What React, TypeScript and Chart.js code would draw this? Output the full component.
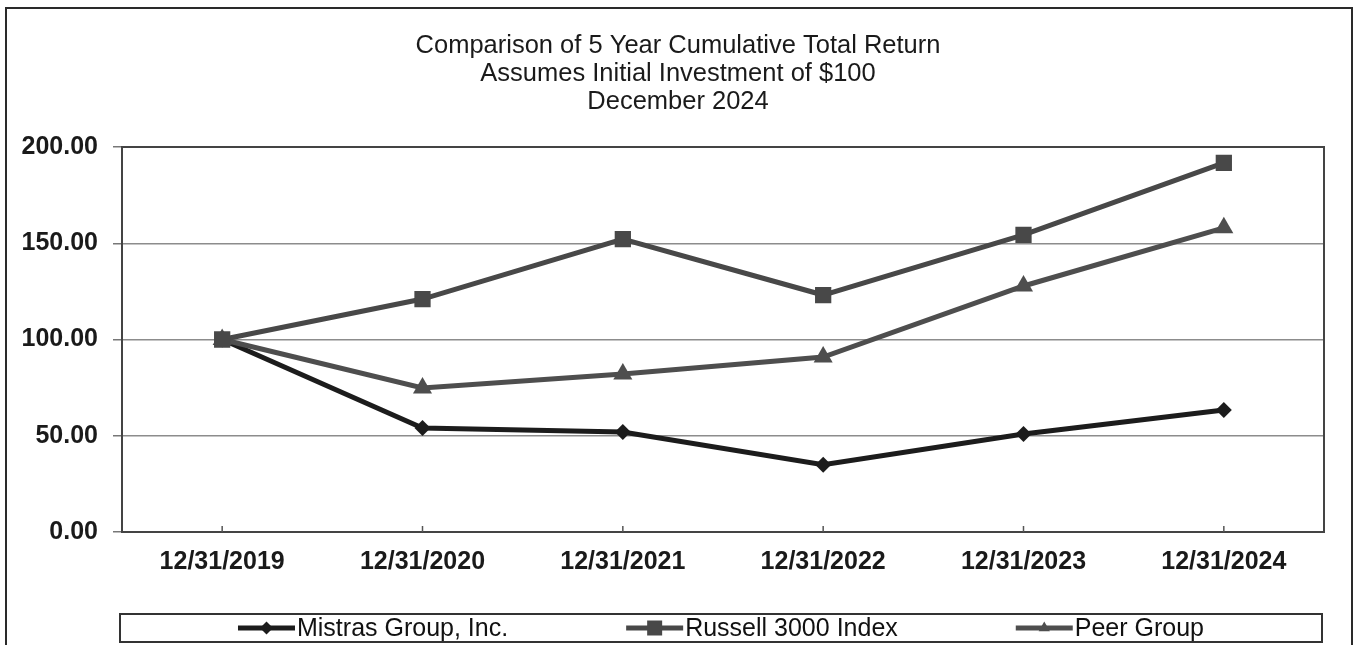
import React, { useEffect, useRef } from 'react';
import { Chart, registerables } from 'chart.js';

Chart.register(...registerables);

const FONT = '"Liberation Sans", Arial, Helvetica, sans-serif';

const categories = ['12/31/2019', '12/31/2020', '12/31/2021', '12/31/2022', '12/31/2023', '12/31/2024'];
const mistras = [100, 54.0, 51.9, 35.0, 50.9, 63.4];
const russell = [100, 121.0, 152.2, 123.1, 154.3, 191.8];
const peer = [100, 74.8, 82.1, 90.9, 127.8, 158.0];
const seriesNames = ['Mistras Group, Inc.', 'Russell 3000 Index', 'Peer Group'];
const titleLines = ['Comparison of 5 Year Cumulative Total Return', 'Assumes Initial Investment of $100', 'December 2024'];
const yMin = 0;
const yMax = 200;
const yStep = 50;

function drawMarker(ctx: CanvasRenderingContext2D, style: string, x: number, y: number, r: number) {
  ctx.beginPath();
  if (style === 'rectRot') {
    ctx.moveTo(x, y - r);
    ctx.lineTo(x + r, y);
    ctx.lineTo(x, y + r);
    ctx.lineTo(x - r, y);
    ctx.closePath();
  } else if (style === 'rect') {
    ctx.rect(x - r, y - r, 2 * r, 2 * r);
  } else {
    ctx.moveTo(x, y - r);
    ctx.lineTo(x + r * 0.866, y + r * 0.5);
    ctx.lineTo(x - r * 0.866, y + r * 0.5);
    ctx.closePath();
  }
  ctx.fill();
}

const framePlugin = {
  id: 'frame',
  beforeDatasetsDraw(chart: any) {
    const ctx = chart.ctx;
    const { left, top, right, bottom } = chart.chartArea;
    ctx.save();
    ctx.strokeStyle = '#444';
    ctx.lineWidth = 2;
    ctx.strokeRect(left, top, right - left, bottom - top);
    ctx.lineWidth = 1.5;
    ctx.strokeStyle = '#555';
    const xs = chart.scales.x;
    categories.forEach((_, i) => {
      const x = xs.getPixelForValue(i);
      ctx.beginPath();
      ctx.moveTo(x, bottom - 6);
      ctx.lineTo(x, bottom);
      ctx.stroke();
    });
    ctx.restore();
  },
  afterDraw(chart: any) {
    const ctx = chart.ctx;
    const ca = chart.chartArea;
    ctx.save();
    // outer border
    ctx.strokeStyle = '#2a2a2a';
    ctx.lineWidth = 2;
    ctx.beginPath();
    ctx.moveTo(6, chart.height + 10);
    ctx.lineTo(6, 8);
    ctx.lineTo(1352, 8);
    ctx.lineTo(1352, chart.height + 10);
    ctx.stroke();

    // legend
    const boxL = ca.left - 2;
    const boxR = ca.right - 2;
    const boxT = ca.bottom + 82;
    const boxB = boxT + 28;
    ctx.strokeStyle = '#333';
    ctx.lineWidth = 2;
    ctx.strokeRect(boxL, boxT, boxR - boxL, boxB - boxT);
    ctx.font = `25px ${FONT}`;
    const lineLen = 57;
    const gapText = 2;
    const ds = chart.data.datasets;
    const widths = ds.map((d: any) => lineLen + gapText + ctx.measureText(d.label).width);
    const total = widths.reduce((a: number, b: number) => a + b, 0);
    const gap = (boxR - boxL - total) / (ds.length + 1);
    let x = boxL + gap;
    const cy = (boxT + boxB) / 2;
    ds.forEach((d: any, i: number) => {
      ctx.strokeStyle = d.borderColor;
      ctx.fillStyle = d.borderColor;
      ctx.lineWidth = 5;
      ctx.beginPath();
      ctx.moveTo(x, cy);
      ctx.lineTo(x + lineLen, cy);
      ctx.stroke();
      const r = d.pointStyle === 'rect' ? 7.5 : 6.5;
      drawMarker(ctx, d.pointStyle, x + lineLen / 2, cy, r);
      ctx.fillStyle = '#111';
      ctx.textBaseline = 'middle';
      ctx.textAlign = 'left';
      ctx.fillText(d.label, x + lineLen + gapText, cy + 1);
      x += widths[i] + gap;
    });
    ctx.restore();
  },
};

export default function App() {
  const ref = useRef<HTMLCanvasElement>(null);
  useEffect(() => {
    if (!ref.current) return;
    const chart = new Chart(ref.current, {
      type: 'line',
      data: {
        labels: categories,
        datasets: [
          {
            label: seriesNames[0],
            data: mistras,
            borderColor: '#1c1c1c',
            backgroundColor: '#1c1c1c',
            borderWidth: 5,
            pointStyle: 'rectRot',
            pointRadius: 8,
            pointBorderWidth: 0,
            tension: 0,
            order: 2,
          },
          {
            label: seriesNames[1],
            data: russell,
            borderColor: '#484848',
            backgroundColor: '#484848',
            borderWidth: 5,
            pointStyle: 'rect',
            pointRadius: 11.5,
            pointBorderWidth: 0,
            tension: 0,
            order: 0,
          },
          {
            label: seriesNames[2],
            data: peer,
            borderColor: '#4e4e4e',
            backgroundColor: '#4e4e4e',
            borderWidth: 5,
            pointStyle: 'triangle',
            pointRadius: 11,
            pointBorderWidth: 0,
            tension: 0,
            order: 1,
          },
        ],
      },
      options: {
        responsive: false,
        animation: false,
        devicePixelRatio: 1,
        layout: { padding: { top: 0, left: 0, right: 0, bottom: 32 } },
        plugins: {
          legend: { display: false },
          tooltip: { enabled: false },
          title: {
            display: true,
            text: titleLines,
            color: '#1a1a1a',
            font: { family: FONT, size: 25.5, weight: 'normal', lineHeight: 28 / 25.5 },
            padding: { top: 32, bottom: 31 },
          },
        },
        scales: {
          x: {
            type: 'category',
            offset: true,
            grid: { display: false },
            border: { display: false },
            ticks: {
              color: '#1a1a1a',
              font: { family: FONT, size: 25, weight: 'bold' },
              padding: 7,
              maxRotation: 0,
              autoSkip: false,
            },
            afterFit: (s: any) => { s.height = 81; },
          },
          y: {
            type: 'linear',
            min: yMin,
            max: yMax,
            position: 'left',
            grid: { color: '#8c8c8c', lineWidth: 1.5, tickLength: 9, tickColor: '#777', drawTicks: true },
            border: { display: false },
            ticks: {
              stepSize: yStep,
              color: '#1a1a1a',
              font: { family: FONT, size: 25, weight: 'bold' },
              padding: 15,
              callback: (v: any) => Number(v).toFixed(2),
            },
            afterFit: (s: any) => { s.width = 122; },
          },
          y2: {
            type: 'linear',
            position: 'right',
            display: true,
            grid: { display: false },
            border: { display: false },
            ticks: { display: false },
            afterFit: (s: any) => { s.width = 32; },
          },
        },
      },
      plugins: [framePlugin],
    } as any);
    return () => chart.destroy();
  }, []);
  return (
    <div style={{ position: 'fixed', left: 0, top: 0, width: 1356, height: 645, background: '#fff' }}>
      <canvas ref={ref} width={1356} height={645} style={{ display: 'block', width: 1356, height: 645 }} />
    </div>
  );
}
